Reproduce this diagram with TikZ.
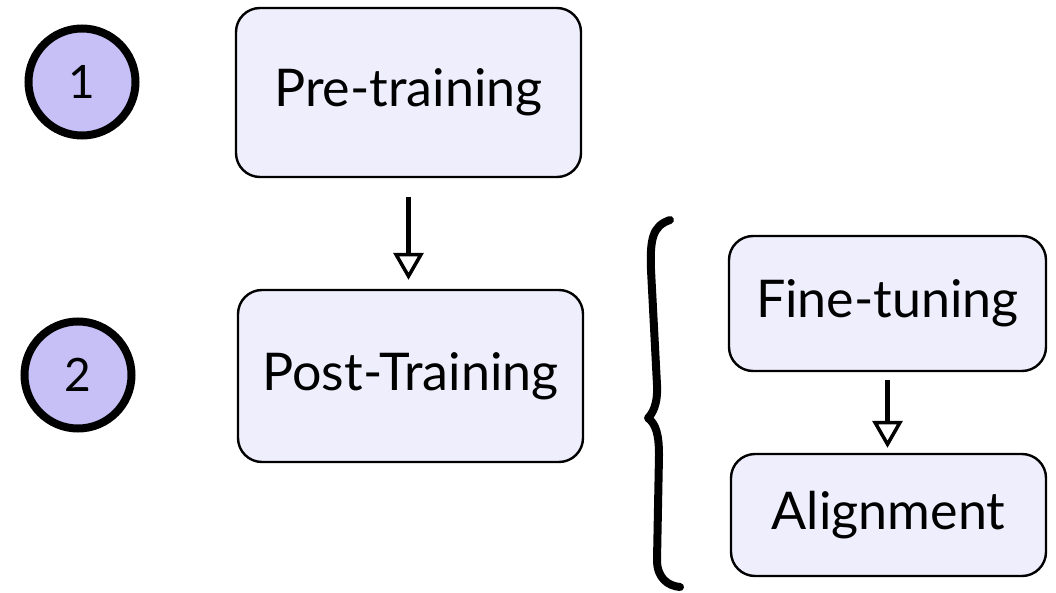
\documentclass[tikz,border=0pt]{standalone}
\usepackage{fontspec}
\setmainfont{Lato}
\usetikzlibrary{arrows.meta}
\definecolor{stagefill}{HTML}{EFEEFD}
\definecolor{numfill}{HTML}{C6C0F6}

\begin{document}
\begin{tikzpicture}[x=1pt,y=-1pt,
    stage/.style={draw=black, line width=2.4pt, fill=stagefill, rounded corners=24pt,
      inner sep=0pt, font=\fontsize{52}{56}\selectfont},
    num/.style={circle, draw=black, line width=8pt, fill=numfill, minimum size=107pt,
      inner sep=0pt, font=\fontsize{46}{50}\selectfont},
    flow/.style={line width=4.5pt, -{Triangle[open, length=27pt, width=30pt, line width=3.5pt]}}]
    \useasboundingbox (0,0) rectangle (1056,593);
    \node[num] (one) at (82,82) {1};
    \node[num] (two) at (78,375) {2};
    \node[stage, minimum width=345pt, minimum height=169pt] (pre) at (408.5,92.5) {Pre-training};
    \node[stage, minimum width=345pt, minimum height=172pt] (post) at (410.5,376) {Post-Training};
    \node[stage, minimum width=317pt, minimum height=135pt] (fine) at (887.5,303.5) {Fine-tuning};
    \node[stage, minimum width=315pt, minimum height=122pt] (align) at (888.5,515) {Alignment};
    \draw[flow, shorten <=19pt, shorten >=9pt] (pre.south) -- (pre.south |- post.north);
    \draw[flow, shorten <=8pt, shorten >=5pt] (fine.south) -- (fine.south |- align.north);
    \draw[line width=8pt, line cap=round, line join=round] (670,220)
      .. controls (652,226) and (650,240) .. (651,270) -- (657,385)
      .. controls (658,405) and (652,414) .. (648,418)
      .. controls (656,424) and (659,435) .. (659,455) -- (657,560)
      .. controls (657,578) and (668,586) .. (680,587);
\end{tikzpicture}
\end{document}
